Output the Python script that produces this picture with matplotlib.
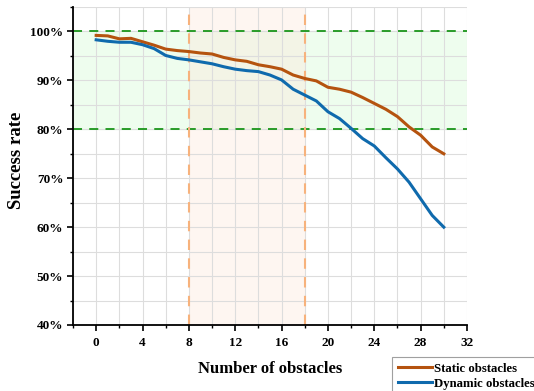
import matplotlib
matplotlib.use("Agg")
import matplotlib.pyplot as plt
from matplotlib.ticker import MultipleLocator, FuncFormatter

obstacles = list(range(0, 31))
static = [99.2, 99.1, 98.5, 98.6, 97.9, 97.2, 96.4, 96.1, 95.9, 95.6, 95.4,
          94.7, 94.2, 93.9, 93.2, 92.8, 92.3, 91.1, 90.4, 89.9, 88.6,
          88.2, 87.6, 86.5, 85.3, 84.1, 82.6, 80.5, 78.8, 76.4, 75.0]
dynamic = [98.3, 98.0, 97.8, 97.8, 97.3, 96.5, 95.1, 94.5, 94.2, 93.8, 93.4,
           92.8, 92.3, 92.0, 91.8, 91.1, 90.1, 88.2, 87.0, 85.8, 83.6,
           82.2, 80.2, 78.1, 76.6, 74.2, 71.9, 69.2, 65.8, 62.4, 60.0]
band_low, band_high = 80, 100
span_lo, span_hi = 8, 18

plt.rcParams['font.family'] = ['Liberation Serif', 'DejaVu Serif']
plt.rcParams['font.weight'] = 'bold'

fig = plt.figure(figsize=(5.34, 3.91), dpi=100)
ax = fig.add_axes([0.1367, 0.1688, 0.7378, 0.8132])

ax.set_xlim(-2, 32)
ax.set_ylim(40, 105)

ax.axhspan(band_low, band_high, color='#eefdee', zorder=0)
ax.axvspan(span_lo, span_hi, color='#fde6d8', alpha=0.35, zorder=0.5, lw=0)
ax.axhline(band_low, color='#1a961a', ls=(0, (5, 4)), lw=1.3, zorder=2)
ax.axhline(band_high, color='#1a961a', ls=(0, (5, 4)), lw=1.3, zorder=2)
ax.axvline(span_lo, color='#f7b27c', ls=(0, (5, 4)), lw=1.5, zorder=2)
ax.axvline(span_hi, color='#f7b27c', ls=(0, (5, 4)), lw=1.5, zorder=2)

ax.plot(obstacles, static, color='#b5530f', lw=2.2, label='Static obstacles', zorder=3)
ax.plot(obstacles, dynamic, color='#0f6aad', lw=2.2, label='Dynamic obstacles', zorder=3)

ax.xaxis.set_major_locator(MultipleLocator(4))
ax.xaxis.set_minor_locator(MultipleLocator(2))
ax.yaxis.set_major_locator(MultipleLocator(10))
ax.yaxis.set_minor_locator(MultipleLocator(5))
ax.yaxis.set_major_formatter(FuncFormatter(lambda v, p: f"{int(v)}%"))
ax.grid(True, which='both', color='#dddddd', lw=0.8, zorder=1)
ax.set_axisbelow(True)

for s in ['top', 'right']:
    ax.spines[s].set_visible(False)
for s in ['left', 'bottom']:
    ax.spines[s].set_linewidth(1.3)

ax.tick_params(axis='both', which='major', direction='out', length=4, width=1.2, labelsize=9.5)
ax.tick_params(axis='both', which='minor', direction='out', length=2.5, width=1.0)
ax.tick_params(axis='x', pad=5)
ax.tick_params(axis='y', pad=3)
for lab in ax.get_xticklabels() + ax.get_yticklabels():
    lab.set_fontweight('bold')

ax.set_xlabel('Number of obstacles', fontsize=12, fontweight='bold', labelpad=8)
ax.set_ylabel('Success rate', fontsize=13.5, fontweight='bold')
ax.yaxis.set_label_coords(-0.123, 0.519)

leg = fig.legend(loc='upper left', bbox_to_anchor=(392/534, 1 - 357/391),
                 bbox_transform=fig.transFigure, fontsize=9.2, frameon=True,
                 fancybox=False, edgecolor='#888888', borderpad=0.45,
                 handlelength=2.7, handletextpad=0.1, labelspacing=0.25,
                 borderaxespad=0)
leg.get_frame().set_linewidth(0.8)
for t in leg.get_texts():
    t.set_fontweight('bold')

fig.savefig('out.png', dpi=100)
